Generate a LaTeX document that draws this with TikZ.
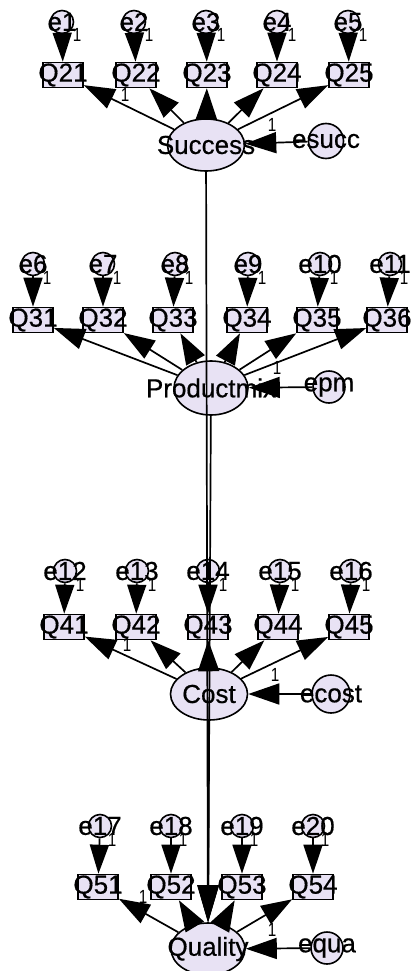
\documentclass[tikz,border=0pt]{standalone}
\usepackage{fontspec}
\setmainfont{Liberation Sans}
\newfontfamily\amos[FakeBold=0.6]{Liberation Sans}
\usetikzlibrary{shapes.geometric,arrows.meta}
\definecolor{lav}{RGB}{232,226,244}
\begin{document}
\begin{tikzpicture}[x=1pt,y=-1pt,
  lbl/.style={font=\amos\fontsize{26}{26}\selectfont, inner sep=0pt},
  one/.style={font=\fontsize{19}{19}\selectfont, inner sep=0pt, xscale=0.8},
  errc/.style={circle, draw, line width=1.6pt, fill=lav, minimum size=23pt, inner sep=0pt},
  obs/.style={rectangle, draw, line width=1.6pt, fill=lav, minimum width=40pt, minimum height=25pt, inner sep=0pt},
  lat/.style={ellipse, draw, line width=1.6pt, fill=lav, minimum width=77pt, minimum height=52pt, inner sep=0pt},
  ea/.style={line width=1.7pt, -{Triangle[length=29pt,width=19pt]}},
  la/.style={line width=1.7pt, -{Triangle[length=31pt,width=21pt]}},
  sa/.style={line width=1.7pt, -{Triangle[length=37pt,width=21pt]}},
]
\useasboundingbox[fill=white] (0,0) rectangle (413,971);

% ---------- Row 1 : Success ----------
\foreach \n/\x in {1/62,2/134,3/206,4/277,5/348} {
  \node[errc, label={[lbl]center:e\n}] (e\n) at (\x,22) {};
  \node[one] at (\x+15,35) {1};
}
\foreach \q/\x in {21/63,22/136,23/207,24/277,25/349}
  \node[obs, label={[lbl]center:Q\q}] (Q\q) at (\x,75) {};
\node[lat, label={[lbl]center:Success}] (Success) at (206,145) {};
\node[errc, minimum size=35pt, label={[lbl]center:esucc}] (esucc) at (326,141) {};

% ---------- Row 2 : Productmix ----------
\foreach \n/\x in {6/33,7/103,8/175,9/248,10/320,11/390} {
  \node[errc, label={[lbl]center:e\n}] (e\n) at (\x,264) {};
  \node[one] at (\x+14,278) {1};
}
\foreach \q/\x in {31/33,32/103,33/173,34/247,35/317,36/387}
  \node[obs, label={[lbl]center:Q\q}] (Q\q) at (\x,320) {};
\node[lat, minimum width=74pt, minimum height=54pt, label={[lbl]center:Productmix}] (Productmix) at (211,388) {};
\node[errc, minimum size=32pt, label={[lbl]center:epm}] (epm) at (329,387) {};

% ---------- Row 3 : Cost ----------
\foreach \n/\x in {12/65,13/137,14/208,15/280,16/351} {
  \node[errc, label={[lbl]center:e\n}] (e\n) at (\x,571) {};
  \node[one] at (\x+15,585) {1};
}
\foreach \q/\x in {41/64,42/136,43/208,44/278,45/349}
  \node[obs, label={[lbl]center:Q\q}] (Q\q) at (\x,627) {};
\node[lat, label={[lbl]center:Cost}] (Cost) at (209,694) {};
\node[errc, minimum size=38pt, label={[lbl]center:ecost}] (ecost) at (331,694) {};

% ---------- Row 4 : Quality ----------
\foreach \n/\x in {17/100,18/171,19/242,20/313} {
  \node[errc, label={[lbl]center:e\n}] (e\n) at (\x,826) {};
  \node[one] at (\x+12,840) {1};
}
\foreach \q/\x in {51/98,52/171,53/242,54/313}
  \node[obs, label={[lbl]center:Q\q}] (Q\q) at (\x,887) {};
\node[lat, minimum width=74pt, label={[lbl]center:Quality}] (Quality) at (208,949) {};
\node[errc, minimum size=32pt, label={[lbl]center:equa}] (equa) at (327,948) {};

% ---------- error -> indicator arrows ----------
\foreach \n/\q in {1/21,2/22,3/23,4/24,5/25,6/31,7/32,8/33,9/34,10/35,11/36,
                   12/41,13/42,14/43,15/44,16/45,17/51,18/52,19/53,20/54}
  \draw[ea] (e\n) -- (Q\q);

% ---------- loadings ----------
\foreach \q in {21,22,23,24,25} \draw[la] (Success) -- (Q\q);
\foreach \q in {31,32,33,34,35,36} \draw[la] (Productmix) -- (Q\q);
\foreach \q in {41,42,43,44,45} \draw[la] (Cost) -- (Q\q);
\foreach \q in {51,52,53,54} \draw[la] (Quality) -- (Q\q);

% ---------- disturbances ----------
\draw[la] (esucc) -- (Success);
\draw[la] (epm) -- (Productmix);
\draw[la] (ecost) -- (Cost);
\draw[la] (equa) -- (Quality);

% ---------- structural paths ----------
\draw[sa] (Success) -- (Quality);
\draw[sa] (Productmix) -- (Quality);
\draw[sa] (Cost) -- (Quality);

% ---------- loading labels ----------
\node[one] (l1) at (125,95) {1};
\node[one] (l2) at (272,125) {1};
\node[one] (l3) at (277,368) {1};
\node[one] (l4) at (127,645) {1};
\node[one] (l5) at (275,675) {1};
\node[one] (l6) at (143,897) {1};
\node[one] (l7) at (272,930) {1};
\end{tikzpicture}
\end{document}
